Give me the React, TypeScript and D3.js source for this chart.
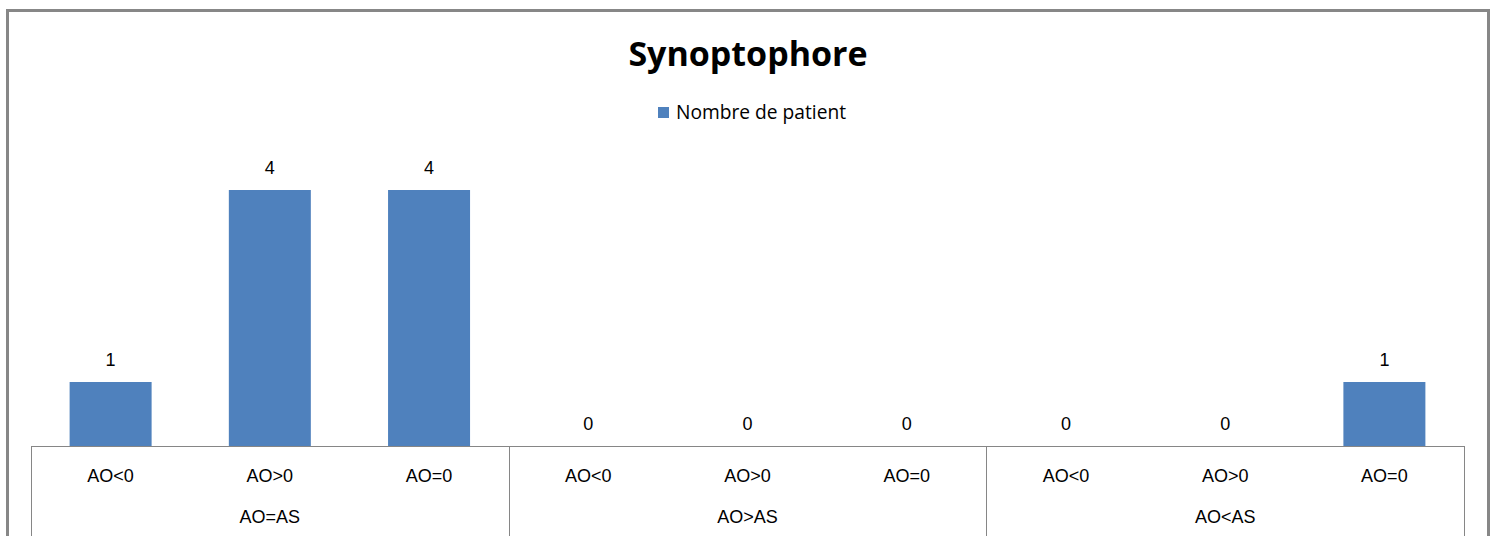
import React from "react";
import * as d3 from "d3";

const groups = ["AO=AS", "AO>AS", "AO<AS"];
const subCategories = ["AO<0", "AO>0", "AO=0"];
const values = [1, 4, 4, 0, 0, 0, 0, 0, 1];
const seriesName = "Nombre de patient";
const title = "Synoptophore";

const W = 1493;
const H = 536;
const axisLeft = 31;
const axisRight = 1464;
const baseY = 446;
const color = "#4F81BD";
const font = "'Liberation Sans', Arial, sans-serif";

export default function App() {
  const cats = groups.flatMap((g) => subCategories.map((s) => `${g}|${s}`));
  const x = d3.scaleBand<string>().domain(cats).range([axisLeft, axisRight]).paddingInner(0.485).paddingOuter(0.2425);
  const xGroup = d3.scaleBand<string>().domain(groups).range([axisLeft, axisRight]);
  const y = d3.scaleLinear().domain([0, 5]).range([baseY, baseY - 5 * 64]);

  return (
    <svg width={W} height={H} style={{ position: "absolute", left: 0, top: 0, background: "#fff" }}>
      <rect x={7.5} y={10.5} width={1481} height={H} fill="#fff" stroke="#878787" strokeWidth={3} />
      <text x={748} y={66} textAnchor="middle" fontFamily="'Open Sans', sans-serif" fontWeight="bold" fontSize={34} fill="#000">
        {title}
      </text>
      <rect x={658} y={107} width={11} height={11} fill={color} />
      <text x={676} y={119} fontFamily="'Open Sans', sans-serif" fontSize={19.2} fill="#000">
        {seriesName}
      </text>
      {values.map((v, i) => {
        const c = cats[i];
        const bx = x(c)!;
        const bw = x.bandwidth();
        return (
          <g key={c}>
            {v > 0 && <rect x={bx} y={y(v)} width={bw} height={baseY - y(v)} fill={color} />}
            <text x={bx + bw / 2} y={y(v) - 16} textAnchor="middle" fontFamily={font} fontSize={18} fill="#000">
              {v}
            </text>
            <text x={bx + bw / 2} y={482} textAnchor="middle" fontFamily={font} fontSize={18} fill="#000">
              {subCategories[i % 3]}
            </text>
          </g>
        );
      })}
      <line x1={axisLeft} x2={axisRight} y1={baseY + 0.5} y2={baseY + 0.5} stroke="#868686" strokeWidth={1} />
      {[...groups.map((g) => xGroup(g)!), axisRight].map((gx, i) => (
        <line key={i} x1={Math.round(gx) + 0.5} x2={Math.round(gx) + 0.5} y1={baseY} y2={H} stroke="#868686" strokeWidth={1} />
      ))}
      {groups.map((g) => (
        <text key={g} x={xGroup(g)! + xGroup.bandwidth() / 2} y={523} textAnchor="middle" fontFamily={font} fontSize={18} fill="#000">
          {g}
        </text>
      ))}
    </svg>
  );
}
